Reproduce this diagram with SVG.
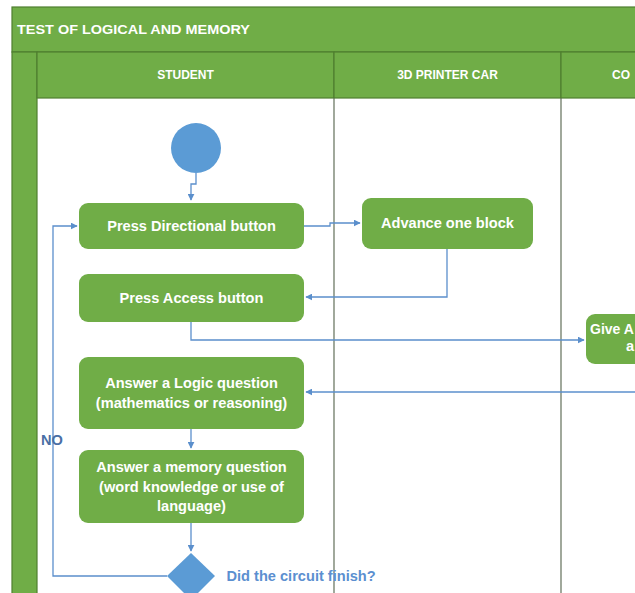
<svg xmlns="http://www.w3.org/2000/svg" width="635" height="593" viewBox="0 0 635 593">
  <defs>
    <marker id="arrow" viewBox="0 0 10 10" refX="9" refY="5" markerWidth="7" markerHeight="7" markerUnits="userSpaceOnUse" orient="auto">
      <path d="M0,0 L10,5 L0,10 Z" fill="#5b8fcc"/>
    </marker>
    <style>
      .band { fill: #70ad47; stroke: #4f7f2f; stroke-width: 1.2; }
      .lane { stroke: #6e7a66; stroke-width: 1.3; fill: none; }
      .act { fill: #70ad47; }
      .acttext { font-family: "Liberation Sans", Arial, sans-serif; font-weight: bold; font-size: 14.6px; fill: #ffffff; text-anchor: middle; }
      .head { font-family: "Liberation Sans", Arial, sans-serif; font-weight: bold; font-size: 12px; fill: #ffffff; text-anchor: middle; }
      .flow { fill: none; stroke: #5b8fcc; stroke-width: 1.3; }
      .mark { fill: #5b9bd5; }
      .label { font-family: "Liberation Sans", Arial, sans-serif; font-weight: bold; font-size: 14.6px; }
    </style>
  </defs>

  <rect width="635" height="593" fill="#ffffff"/>

  <!-- pool frame: title band, left strip, lane header row -->
  <g id="pool">
    <rect class="band" x="12" y="7" width="630" height="45"/>
    <rect class="band" x="12" y="52" width="25" height="548"/>
    <rect class="band" x="37" y="52" width="297" height="46"/>
    <rect class="band" x="334" y="52" width="227" height="46"/>
    <rect class="band" x="561" y="52" width="90" height="46"/>
    <text x="17" y="34" font-family="'Liberation Sans', Arial, sans-serif" font-weight="bold" font-size="13.5" fill="#ffffff" textLength="233" lengthAdjust="spacingAndGlyphs">TEST OF LOGICAL AND MEMORY</text>
    <text class="head" x="185.5" y="79">STUDENT</text>
    <text class="head" x="447.5" y="79">3D PRINTER CAR</text>
    <text class="head" x="612" y="79" style="text-anchor:start">CO</text>
    <line class="lane" x1="334" y1="98" x2="334" y2="593"/>
    <line class="lane" x1="561" y1="98" x2="561" y2="593"/>
  </g>

  <!-- connectors -->
  <g id="connectors">
    <path class="flow" d="M196,173 V184 H191 V200" marker-end="url(#arrow)"/>
    <path class="flow" d="M304,226 H330 V223 H360" marker-end="url(#arrow)"/>
    <path class="flow" d="M447,249 V297 H306" marker-end="url(#arrow)"/>
    <path class="flow" d="M191,322 V340 H584" marker-end="url(#arrow)"/>
    <path class="flow" d="M640,392 H306" marker-end="url(#arrow)"/>
    <path class="flow" d="M191,429 V448" marker-end="url(#arrow)"/>
    <path class="flow" d="M191,523 V551" marker-end="url(#arrow)"/>
    <path class="flow" d="M167,576 H53 V226 H77" marker-end="url(#arrow)"/>
  </g>

  <g id="start">
    <circle class="mark" cx="196" cy="148" r="25"/>
  </g>

  <g id="press-directional">
    <rect class="act" x="79" y="203" width="225" height="46" rx="9"/>
    <text class="acttext" x="191.5" y="231">Press Directional button</text>
  </g>

  <g id="advance-block">
    <rect class="act" x="362" y="198" width="171" height="51" rx="9"/>
    <text class="acttext" x="447.5" y="228">Advance one block</text>
  </g>

  <g id="press-access">
    <rect class="act" x="79" y="274" width="225" height="48" rx="9"/>
    <text class="acttext" x="191.5" y="303">Press Access button</text>
  </g>

  <g id="give-access">
    <rect class="act" x="586" y="314" width="120" height="50" rx="9"/>
    <text class="acttext" x="590" y="334" style="text-anchor:start;font-size:14px">Give A</text>
    <text class="acttext" x="626" y="351" style="text-anchor:start">a</text>
  </g>

  <g id="logic-question">
    <rect class="act" x="79" y="357" width="225" height="72" rx="9"/>
    <text class="acttext" x="191.5" y="388">Answer a Logic question</text>
    <text class="acttext" x="191.5" y="408">(mathematics or reasoning)</text>
  </g>

  <g id="memory-question">
    <rect class="act" x="79" y="450" width="225" height="73" rx="9"/>
    <text class="acttext" x="191.5" y="472">Answer a memory question</text>
    <text class="acttext" x="191.5" y="491.5">(word knowledge or use of</text>
    <text class="acttext" x="191.5" y="511">language)</text>
  </g>

  <g id="circuit-finished">
    <path class="mark" d="M191,553 L215,576 L191,600 L167,576 Z"/>
    <text class="label" x="226.5" y="581" fill="#5b8fd0">Did the circuit finish?</text>
  </g>

  <g id="no-label">
    <text class="label" x="41" y="445" fill="#4a6fa5" font-size="14px">NO</text>
  </g>
</svg>
